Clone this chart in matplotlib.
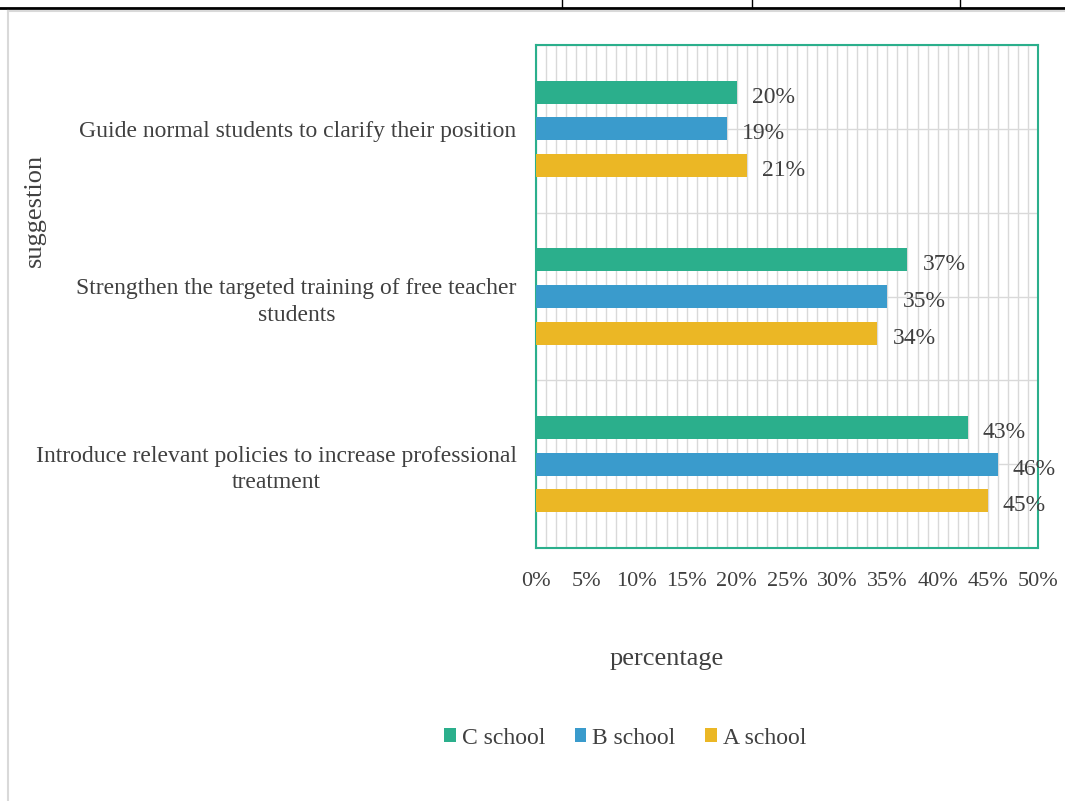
import matplotlib.pyplot as plt
import numpy as np
from matplotlib.lines import Line2D
from matplotlib.patches import Patch

# data (percent)
categories = ["Guide normal students to clarify their position",
              "Strengthen the targeted training of free teacher\nstudents",
              "Introduce relevant policies to increase professional\ntreatment"]
series_names = ["C school", "B school", "A school"]
c_school = [20, 37, 43]
b_school = [19, 35, 46]
a_school = [21, 34, 45]
x_ticks = [0, 5, 10, 15, 20, 25, 30, 35, 40, 45, 50]

colors = ["#2BAF8C", "#3A9BCC", "#EBB725"]
text_col = "#404040"

plt.rcParams['font.family'] = ['Liberation Serif', 'DejaVu Serif']

fig = plt.figure(figsize=(10.65, 8.01), dpi=100)
W, H = 1065, 801
ax = fig.add_axes([536 / W, 1 - 548 / H, (1038 - 536) / W, (548 - 45) / H])

y = np.arange(len(categories))
step = 0.218
height = 0.137
for k, (vals, name) in enumerate(zip([c_school, b_school, a_school], series_names)):
    pos = y + (k - 1) * step
    ax.barh(pos, vals, height=height, color=colors[k], label=name, zorder=3)
    for p, v in zip(pos, vals):
        ax.text(v + 1.5, p + 0.03, f"{v}%", va='center', ha='left',
                fontsize=17, color=text_col, zorder=4)

ax.set_xlim(0, 50)
ax.set_ylim(len(categories) - 0.5, -0.5)

ax.set_xticks(x_ticks)
ax.set_xticklabels([f"{t}%" for t in x_ticks])
ax.set_xticks(np.arange(0, 51, 1), minor=True)
ax.set_yticks(y)
ax.set_yticklabels(categories, multialignment='center', linespacing=1.35)
ax.set_yticks(np.arange(-0.5, len(categories), 1.0), minor=True)
ax.tick_params(axis='both', which='both', length=0)
ax.tick_params(axis='x', labelsize=16, labelcolor=text_col, pad=17)
ax.tick_params(axis='y', labelsize=17, labelcolor=text_col, pad=14)

ax.grid(True, which='minor', color='#d9d9d9', linewidth=1, zorder=0)
ax.grid(True, which='major', axis='y', color='#d9d9d9', linewidth=1, zorder=0)
ax.grid(True, which='major', axis='x', color='#d9d9d9', linewidth=1, zorder=0)
for s in ax.spines.values():
    s.set_color("#2BAF8C")
    s.set_linewidth(1.5)

fig.text(667 / W, 1 - 659 / H, "percentage", ha='center', va='center',
         fontsize=19, color=text_col)
fig.text(35 / W, 1 - 210 / H, "suggestion", ha='center', va='center',
         rotation=90, fontsize=19, color=text_col)

handles = [Patch(facecolor=c, edgecolor='none') for c in colors]
fig.legend(handles, series_names, loc='center', bbox_to_anchor=(625 / W, 1 - 738 / H),
           ncol=3, frameon=False, fontsize=17, labelcolor=text_col,
           handlelength=0.5, handleheight=0.5, handletextpad=0.25, columnspacing=1.25)

# page remnants: table line above, chart frame border
fig.add_artist(Line2D([0, 1], [1 - 8 / H, 1 - 8 / H], color='black', linewidth=2))
for xv in [562, 752, 960]:
    fig.add_artist(Line2D([xv / W, xv / W], [1 - 8 / H, 1], color='black', linewidth=1))
fig.add_artist(Line2D([8 / W, 1], [1 - 11 / H, 1 - 11 / H], color='#d9d9d9', linewidth=1.5))
fig.add_artist(Line2D([8 / W, 8 / W], [0, 1 - 11 / H], color='#d9d9d9', linewidth=1.5))

fig.savefig("out.png", dpi=100)
